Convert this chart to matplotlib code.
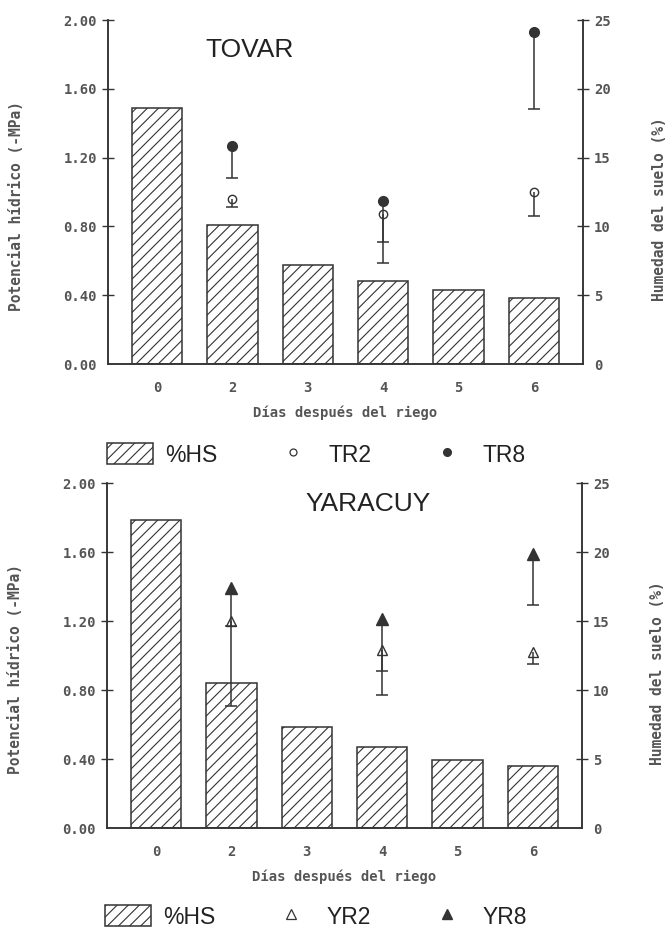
import matplotlib
matplotlib.use('Agg')
import matplotlib.pyplot as plt
from matplotlib.lines import Line2D
import numpy as np

# days after irrigation (bar categories) and the days with water potential readings
dias = ['0', '2', '3', '4', '5', '6']
dias_pot = ['2', '4', '6']

# soil moisture (%HS, right axis)
tovar_hs = [18.6, 10.1, 7.2, 6.0, 5.4, 4.8]
yaracuy_hs = [22.3, 10.5, 7.3, 5.9, 4.9, 4.5]

# water potential (-MPa, left axis) and lower error lengths
tovar_tr2 = [0.96, 0.87, 1.00]
tovar_tr2_err = [0.05, 0.16, 0.14]
tovar_tr8 = [1.27, 0.95, 1.93]
tovar_tr8_err = [0.19, 0.36, 0.45]
yaracuy_yr2 = [1.20, 1.03, 1.02]
yaracuy_yr2_err = [0.03, 0.12, 0.07]
yaracuy_yr8 = [1.39, 1.21, 1.59]
yaracuy_yr8_err = [0.68, 0.44, 0.30]

INK = '#333333'
TXT = '#555555'
MONO = 'DejaVu Sans Mono'
SANS = 'Liberation Sans'

plt.rcParams['hatch.linewidth'] = 0.8
plt.rcParams['hatch.color'] = INK

fig = plt.figure(figsize=(6.69, 9.30), dpi=100)
W, H = 669, 930


def axes_rect(left, top, right, bottom):
    return [left / W, 1 - bottom / H, (right - left) / W, (bottom - top) / H]


def lower_err(ax, xp, s, e):
    # only the lower half of each error bar, with a cap at its end
    lo = np.array(s) - np.array(e)
    ax.vlines(xp, lo, s, color=INK, lw=1.1)
    ax.plot(xp, lo, ls='none', marker='_', ms=8, mew=1.1, color=INK)


def draw_panel(rect, hs, s2, e2, s8, e8, m2, m8, ms2, ms8, title, title_xy):
    ax = fig.add_axes(rect)
    ax2 = ax.twinx()
    ax.set_zorder(ax2.get_zorder() + 1)
    ax.patch.set_visible(False)

    x = np.arange(len(dias))
    ax2.bar(x, hs, width=0.67, color='white', edgecolor=INK, linewidth=1.1,
            hatch='///', label='%HS')
    ax2.set_ylim(0, 25)
    ax2.set_yticks(range(0, 26, 5))

    xp = np.array([dias.index(d) for d in dias_pot])
    lower_err(ax, xp, s8, e8)
    lower_err(ax, xp, s2, e2)
    ax.plot(xp, s2, ls='none', marker=m2, ms=ms2, mfc='none', mec=INK, mew=1.0)
    ax.plot(xp, s8, ls='none', marker=m8, ms=ms8, mfc=INK, mec=INK)

    ax.set_xlim(-0.65, len(dias) - 0.35)
    ax.set_ylim(0, 2.0)
    ax.set_yticks(np.arange(0, 2.01, 0.4))
    ax.set_yticklabels([f'{v:.2f}' for v in np.arange(0, 2.01, 0.4)])
    ax.set_xticks(x)
    ax.set_xticklabels(dias)

    for a in (ax, ax2):
        a.spines['top'].set_visible(False)
        for s in a.spines.values():
            s.set_color(INK)
            s.set_linewidth(1.1)
        a.tick_params(axis='y', direction='inout', length=8, width=1.0,
                      color=INK, pad=4, labelcolor=TXT, labelsize=10)
        for lab in a.get_yticklabels():
            lab.set_family(MONO)
            lab.set_fontweight('bold')
        a.yaxis.get_major_ticks()[0].tick1line.set_visible(False)
        a.yaxis.get_major_ticks()[0].tick2line.set_visible(False)
    ax.tick_params(axis='x', length=0, pad=12, labelcolor=TXT, labelsize=10)
    for lab in ax.get_xticklabels():
        lab.set_family(MONO)
        lab.set_fontweight('bold')

    ax.set_xlabel('Días después del riego', family=MONO, fontweight='bold',
                  fontsize=10, color=TXT, labelpad=8)
    ax.set_ylabel('Potencial hídrico (-MPa)', family=MONO, fontweight='bold',
                  fontsize=10.5, color=TXT, va='center')
    ax.yaxis.set_label_coords(-0.192, 0.46)
    ax2.set_ylabel('Humedad del suelo (%)', family=MONO, fontweight='bold',
                   fontsize=10.5, color=TXT, va='center')
    ax2.yaxis.set_label_coords(1.16, 0.45)

    ax.text(title_xy[0], title_xy[1], title, transform=ax.transAxes,
            family=SANS, fontsize=19, color='#222222', ha='center', va='center')
    return ax, ax2


ax_t, ax_t2 = draw_panel(axes_rect(108, 20, 583, 364), tovar_hs,
                         tovar_tr2, tovar_tr2_err, tovar_tr8, tovar_tr8_err,
                         'o', 'o', 6, 7, 'TOVAR', (0.299, 0.913))
ax_b, ax_b2 = draw_panel(axes_rect(107, 483, 582, 828), yaracuy_hs,
                         yaracuy_yr2, yaracuy_yr2_err, yaracuy_yr8, yaracuy_yr8_err,
                         '^', '^', 7.5, 8, 'YARACUY', (0.549, 0.939))

leg_kw = dict(loc='center left', ncol=3, frameon=False, borderpad=0,
              borderaxespad=0, handlelength=2.0, handleheight=1.0,
              handletextpad=0.55, columnspacing=2.3,
              prop={'family': SANS, 'size': 16.5})


def legend_handles(ax2, marker, ms):
    bars = ax2.containers[0]
    h2 = Line2D([], [], ls='none', marker=marker, ms=ms, mfc='none', mec=INK, mew=0.9)
    h8 = Line2D([], [], ls='none', marker=marker, ms=ms + 0.5, mfc=INK, mec=INK)
    return [bars, h2, h8]


l1 = fig.legend(legend_handles(ax_t2, 'o', 5), ['%HS', 'TR2', 'TR8'],
                bbox_to_anchor=(107 / W, 1 - 455 / H), **leg_kw)
l2 = fig.legend(legend_handles(ax_b2, '^', 6.5), ['%HS', 'YR2', 'YR8'],
                bbox_to_anchor=(105 / W, 1 - 917 / H), **leg_kw)
for leg in (l1, l2):
    for t in leg.get_texts():
        t.set_color('#222222')

fig.savefig('out.png', dpi=100, facecolor='white')
